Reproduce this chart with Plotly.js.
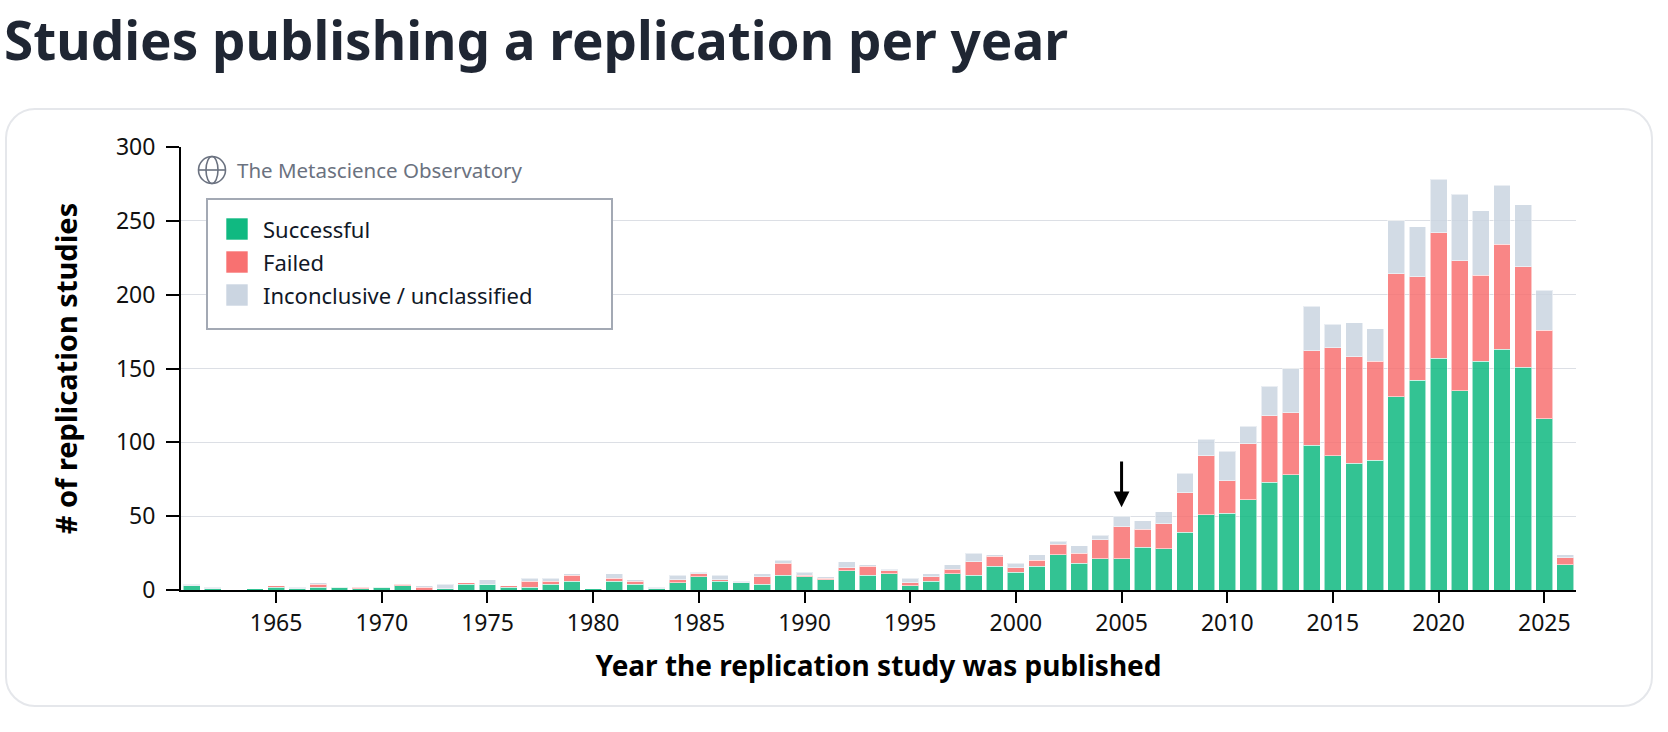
<!DOCTYPE html>
<html>
<head>
<meta charset="utf-8">
<script src="https://cdn.plot.ly/plotly-3.0.1.min.js"></script>
<style>
  html, body { margin: 0; padding: 0; background: #ffffff; }
  #wrap { position: relative; width: 1668px; height: 732px; overflow: hidden; }
  #card { position: absolute; left: 5px; top: 108px; width: 1644px; height: 595px;
          border: 2px solid #e5e7eb; border-radius: 30px; background: #ffffff; }
  #chart { position: absolute; left: 0; top: 0; width: 1668px; height: 732px; }
</style>
</head>
<body>
<div id="wrap">
  <div id="card"></div>
  <div id="chart"></div>
</div>
<script>
// ---- data ----
const years = [
  1961,1962,1963,1964,1965,1966,1967,1968,1969,1970,
  1971,1972,1973,1974,1975,1976,1977,1978,1979,1980,
  1981,1982,1983,1984,1985,1986,1987,1988,1989,1990,
  1991,1992,1993,1994,1995,1996,1997,1998,1999,2000,
  2001,2002,2003,2004,2005,2006,2007,2008,2009,2010,
  2011,2012,2013,2014,2015,2016,2017,2018,2019,2020,
  2021,2022,2023,2024,2025,2026
];
const successful = [
  3,1,0,1,2,1,2,2,1,2,
  3,0,1,4,4,2,2,4,6,1,
  6,4,1,5,9,6,5,4,10,9,
  7,13,10,11,3,6,11,10,16,12,
  16,24,18,21,21,29,28,39,51,52,
  61,73,78,98,91,86,88,131,142,157,
  135,155,163,151,116,17
];
const failed = [
  0,0,0,0,1,0,2,0,1,0,
  1,2,0,1,0,1,4,2,4,0,
  2,2,0,2,2,1,0,5,8,1,
  1,2,6,2,2,3,3,9,7,3,
  4,7,7,13,22,12,17,27,40,22,
  38,45,42,64,73,72,67,83,70,85,
  88,58,71,68,60,5
];
const inconclusive = [
  1,1,0,0,0,1,1,0,0,0,
  0,1,3,0,3,0,2,2,1,0,
  3,1,1,3,1,3,1,2,2,2,
  1,4,1,1,3,2,3,6,1,3,
  4,2,5,3,7,6,8,13,11,20,
  12,20,30,30,16,23,22,36,34,36,
  45,44,40,42,27,2
];
const seriesNames = ["Successful", "Failed", "Inconclusive / unclassified"];
const seriesColors = ["#10b981", "#f87171", "#cbd5e1"];
const xTickStart = 1965, xTickStep = 5;
const highlightYear = 2005;

// ---- geometry helpers (pixel -> axis units) ----
const FW = 1668, FH = 732;
const M = { l: 181, r: 92, t: 147, b: 142 };
const XR = [1960.5, 2026.5], YR = [0, 300];
const PW = FW - M.l - M.r, PH = FH - M.t - M.b;
const px2x = px => XR[0] + (px - M.l) / PW * (XR[1] - XR[0]);
const py2y = py => YR[0] + (FH - M.b - py) / PH * (YR[1] - YR[0]);

const FONT = "Noto Sans, Open Sans, sans-serif";

const seriesValues = [successful, failed, inconclusive];
const traces = seriesValues.map((vals, i) => ({
  type: "bar",
  x: years,
  y: vals,
  name: seriesNames[i],
  opacity: 0.85,
  marker: { color: seriesColors[i], line: { color: "rgba(255,255,255,0.55)", width: 1 } },
  showlegend: false,
  hoverinfo: "x+y+name"
}));

// custom legend + watermark
const shapes = [];
const annotations = [];

// legend frame
shapes.push({
  type: "rect", xref: "x", yref: "y", layer: "above",
  x0: px2x(207), x1: px2x(612), y0: py2y(329), y1: py2y(199),
  fillcolor: "#ffffff", line: { color: "#a3a9b4", width: 2 }
});
const rowCenters = [229, 262, 295];
seriesNames.forEach((nm, i) => {
  const cy = rowCenters[i];
  shapes.push({
    type: "rect", xref: "x", yref: "y", layer: "above",
    x0: px2x(226), x1: px2x(248), y0: py2y(cy + 11), y1: py2y(cy - 11),
    fillcolor: seriesColors[i], line: { color: "rgba(255,255,255,0.6)", width: 1 }
  });
  annotations.push({
    xref: "x", yref: "y", x: px2x(261), y: py2y(cy), xanchor: "left", yanchor: "middle",
    showarrow: false, text: nm,
    font: { family: FONT, size: 22, color: "#111827" }
  });
});

// watermark globe icon
const gx = px2x(212), gy = py2y(170);
const globeLine = { color: "#6b7280", width: 1.6 };
shapes.push({ type: "circle", xref: "x", yref: "y", xsizemode: "pixel", ysizemode: "pixel",
  xanchor: gx, yanchor: gy, x0: -13.5, x1: 13.5, y0: -13.5, y1: 13.5, line: globeLine, layer: "above" });
shapes.push({ type: "circle", xref: "x", yref: "y", xsizemode: "pixel", ysizemode: "pixel",
  xanchor: gx, yanchor: gy, x0: -6, x1: 6, y0: -13.5, y1: 13.5, line: globeLine, layer: "above" });
shapes.push({ type: "line", xref: "x", yref: "y", xsizemode: "pixel", ysizemode: "pixel",
  xanchor: gx, yanchor: gy, x0: -13.5, x1: 13.5, y0: 0, y1: 0, line: globeLine, layer: "above" });
annotations.push({
  xref: "x", yref: "y", x: px2x(235), y: gy, xanchor: "left", yanchor: "middle",
  showarrow: false, text: "The Metascience Observatory",
  font: { family: FONT, size: 20.5, color: "#6b7280" }
});

// arrow over highlighted year
const hi = years.indexOf(highlightYear);
const hiTotal = successful[hi] + failed[hi] + inconclusive[hi];
annotations.push({
  xref: "x", yref: "y", axref: "x", ayref: "y",
  x: highlightYear, y: hiTotal + 6, ax: highlightYear, ay: hiTotal + 38,
  text: "", showarrow: true, arrowhead: 2, arrowsize: 1.05, arrowwidth: 3, arrowcolor: "#000000",
  standoff: 0, startstandoff: 0
});

const layout = {
  width: FW, height: FH,
  margin: M,
  paper_bgcolor: "rgba(0,0,0,0)",
  plot_bgcolor: "rgba(0,0,0,0)",
  barmode: "stack",
  bargap: 0.2,
  font: { family: FONT, color: "#111111" },
  title: {
    text: "Studies publishing a replication per year",
    font: { family: FONT, size: 53, weight: 700, color: "#1f2633" },
    xref: "container", yref: "container",
    x: 4 / FW, xanchor: "left",
    y: 1 - 41 / FH, yanchor: "middle"
  },
  xaxis: {
    range: XR,
    tickmode: "linear", tick0: xTickStart, dtick: xTickStep,
    ticks: "outside", ticklen: 11, tickwidth: 2, tickcolor: "#000000",
    showline: true, linecolor: "#000000", linewidth: 2,
    showgrid: false, zeroline: false,
    tickfont: { family: FONT, size: 23, color: "#111111" },
    title: { text: "Year the replication study was published",
             font: { family: FONT, size: 28, weight: 700, color: "#000000" }, standoff: 20 }
  },
  yaxis: {
    range: YR, dtick: 50, tick0: 0,
    ticks: "outside", ticklen: 13, tickwidth: 2, tickcolor: "#000000",
    showline: true, linecolor: "#000000", linewidth: 2,
    showgrid: true, gridcolor: "#dcdfe5", gridwidth: 1, zeroline: false,
    ticklabelstandoff: 6,
    tickfont: { family: FONT, size: 23, color: "#111111" },
    title: { text: "# of replication studies",
             font: { family: FONT, size: 29, weight: 700, color: "#000000" }, standoff: 30 }
  },
  shapes: shapes,
  annotations: annotations,
  showlegend: false
};

Plotly.newPlot("chart", traces, layout, { displayModeBar: false, staticPlot: true });
</script>
</body>
</html>
